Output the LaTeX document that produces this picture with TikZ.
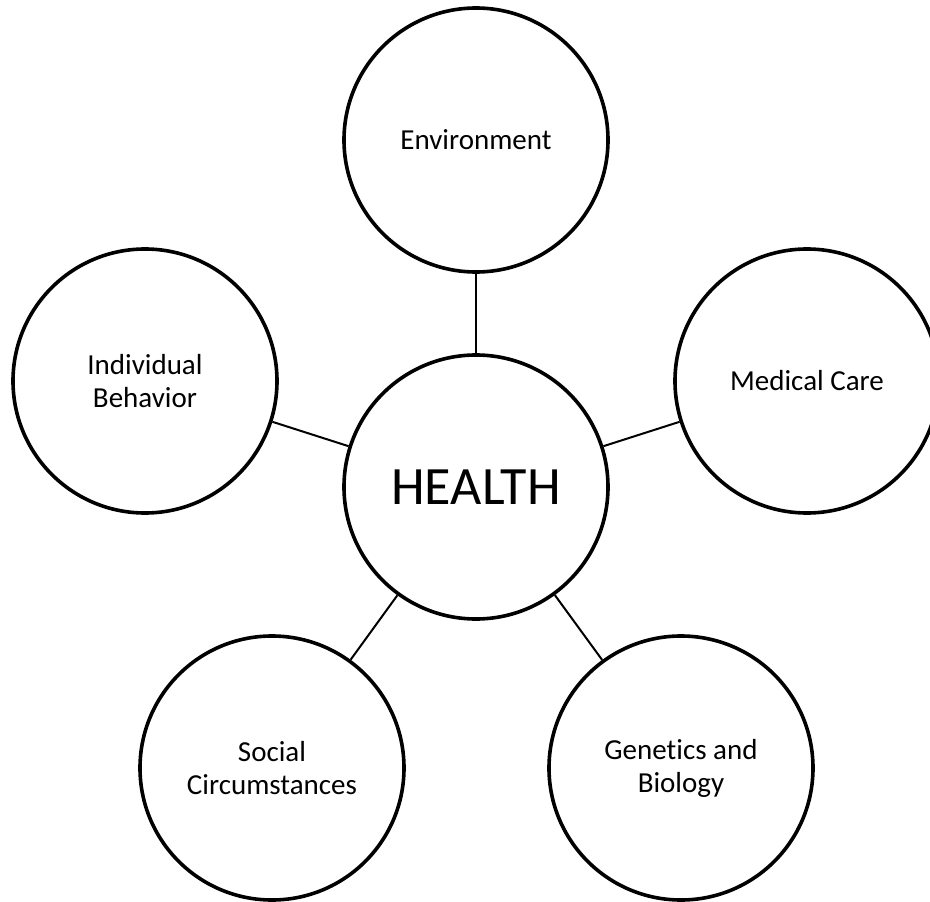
\documentclass[tikz,border=0pt]{standalone}
\usepackage{fontspec}
\setmainfont{Carlito}[Ligatures=NoCommon]
\begin{document}
\begin{tikzpicture}[x=1pt,y=-1pt,
  bubble/.style={circle,draw=black,line width=3.6pt,minimum size=264pt,inner sep=0pt,
    align=center,font=\fontsize{29}{33}\selectfont},
  conn/.style={draw=black,line width=2pt}]
\useasboundingbox (0,0) rectangle (930,902);
\clip (0,0) rectangle (930,902);
\node[bubble] (env) at (476,140) {Environment};
\node[bubble,font=\fontsize{54}{60}\selectfont] (health) at (476,487) {HEALTH};
\node[bubble] (ind) at (145,381) {Individual\\Behavior};
\node[bubble] (med) at (807,381) {Medical Care};
\node[bubble] (soc) at (272,768) {Social\\Circumstances};
\node[bubble] (gen) at (681,768) {Genetics and\\Biology};
\draw[conn] (env) -- (health);
\draw[conn] (ind) -- (health);
\draw[conn] (med) -- (health);
\draw[conn] (soc) -- (health);
\draw[conn] (gen) -- (health);
\end{tikzpicture}
\end{document}
